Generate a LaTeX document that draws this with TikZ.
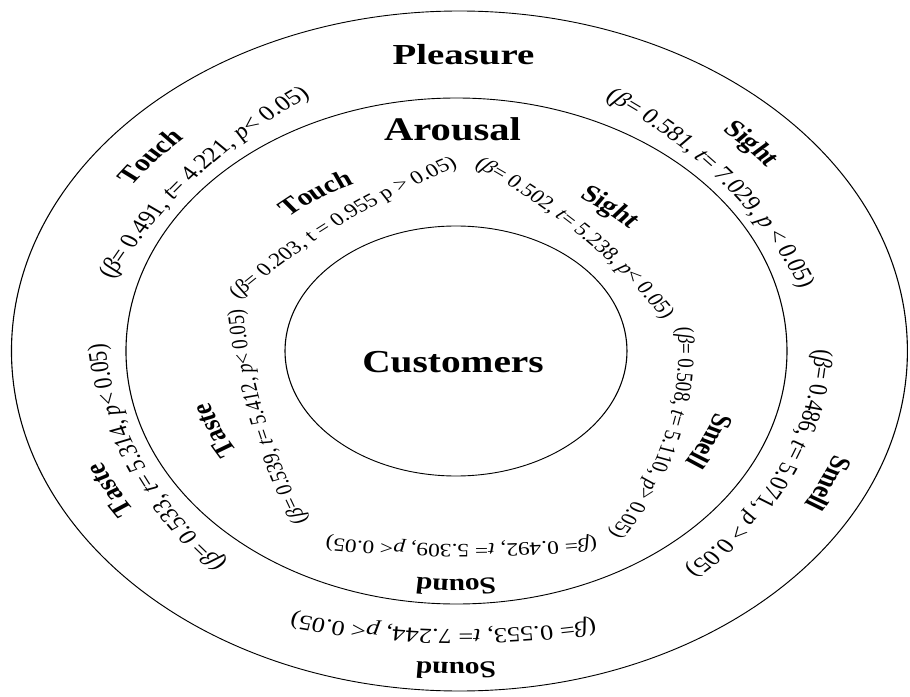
\documentclass[tikz,border=0pt]{standalone}
\usepackage{fontspec}
\setmainfont{Liberation Serif}
\usepackage{graphicx}
\usetikzlibrary{decorations.text}
\newcommand\fsOut{\fontsize{21.5}{24}\selectfont}
\newcommand\fsIn{\fontsize{19}{22}\selectfont}
\newcommand\fsBold{\fontsize{24}{28}\selectfont\bfseries}
% text on an arc of the scaled ellipse (364*rho, 340*rho): style, rho, centre angle, half span, text
\newcommand\elltext[5]{%
  \path[#1, decoration={text={#5}}]
    ({364*#2*cos(#3+#4)},{340*#2*sin(#3+#4)})
    arc[start angle={#3+#4}, end angle={#3-#4}, x radius={364*#2*1pt}, y radius={340*#2*1pt}];}
% text on a circular arc: style, cx, cy, R, centre angle, half span, text
\newcommand\circtext[7]{%
  \path[#1, decoration={text={#7}}]
    ({#2+#4*cos(#5+#6)},{#3+#4*sin(#5+#6)})
    arc[start angle={#5+#6}, end angle={#5-#6}, radius={#4*1pt}];}
\begin{document}
\begin{tikzpicture}[x=1pt,y=1pt,
  ring/.style={draw=black, line width=0.9pt},
  title/.style={anchor=base, inner sep=0pt},
  boldlabel/.style={decorate, decoration={text along path, text align=center, raise=-7.9pt}},
  outstat/.style={decorate, decoration={text along path, text align=center, raise=-6.4pt}},
  instat/.style={decorate, decoration={text along path, text align=center, raise=-5.7pt}}]
\useasboundingbox (-456,-345) rectangle (454,351);
\begin{scope}[transform canvas={xscale=1.23}]
  % rings
  \draw[ring] (2.8,0) ellipse [x radius=364.2pt, y radius=340pt];
  \draw[ring] (0.4,0) ellipse [x radius=268.7pt, y radius=253pt];
  \draw[ring] (0,0) ellipse [x radius=139pt, y radius=125pt];
  % titles
  \node[title, font=\fontsize{29}{32}\selectfont\bfseries] (pleasure) at (6.1,286) {\scalebox{1.09}[1]{Pleasure}};
  \node[title, font=\fontsize{33}{36}\selectfont\bfseries] (arousal) at (-2.8,210) {Arousal};
  \node[title, font=\fontsize{32}{36}\selectfont\bfseries] (customers) at (-2.4,-21) {Customers};
  % outer ring: sense labels
  \elltext{boldlabel}{0.894}{140.3}{20}{|\fsBold|Touch}
  \elltext{boldlabel}{0.902}{42.5}{20}{|\fsBold|Sight}
  \elltext{boldlabel}{0.921}{-24.9}{20}{|\fsBold|Smell}
  \elltext{boldlabel}{0.94}{-90}{20}{|\fsBold|Sound}
  \elltext{boldlabel}{0.878}{207.7}{20}{|\fsBold|Taste}
  % inner ring: sense labels
  \elltext{boldlabel}{0.564}{124.5}{30}{|\fsBold|Touch}
  \elltext{boldlabel}{0.55}{50.4}{30}{|\fsBold|Sight}
  \elltext{boldlabel}{0.629}{-24.6}{30}{|\fsBold|Smell}
  \elltext{boldlabel}{0.695}{-90}{30}{|\fsBold|Sound}
  \elltext{boldlabel}{0.592}{203}{30}{|\fsBold|Taste}
  % outer ring: statistics
  \circtext{outstat}{150.4}{-142.7}{486.2}{138.8}{20}{|\fsOut|(|\fsOut\itshape|β|\fsOut|= 0.491, |\fsOut\itshape|t|\fsOut|= 4.221, |\fsOut\itshape|p|\fsOut|< 0.05)}
  \circtext{outstat}{-111.6}{-102.6}{431.2}{39.8}{23}{|\fsOut|(|\fsOut\itshape|β|\fsOut|= 0.581, |\fsOut\itshape|t|\fsOut|= 7.029, |\fsOut\itshape|p|\fsOut| < 0.05)}
  \circtext{outstat}{-17.45}{15.43}{316.1}{-25.7}{31}{|\fsOut|(|\fsOut\itshape|β|\fsOut|= 0.486, |\fsOut\itshape|t|\fsOut|= 5.071, |\fsOut\itshape|p|\fsOut| > 0.05)}
  \circtext{outstat}{4.8}{337.5}{622.5}{-91.4}{16}{|\fsOut|(|\fsOut\itshape|β|\fsOut|= 0.553, |\fsOut\itshape|t|\fsOut|= 7.244, |\fsOut\itshape|p|\fsOut|< 0.05)}
  \circtext{outstat}{78.3}{38.5}{371.4}{204.2}{27}{|\fsOut|(|\fsOut\itshape|β|\fsOut|= 0.533, |\fsOut\itshape|t|\fsOut|= 5.314, |\fsOut\itshape|p|\fsOut|< 0.05)}
  % inner ring: statistics
  \circtext{instat}{282}{-380}{636}{126.6}{14}{|\fsIn|(|\fsIn\itshape|β|\fsIn|= 0.203, t = 0.955 p > 0.05)}
  \circtext{instat}{-288}{-273}{554.6}{45.1}{16}{|\fsIn|(|\fsIn\itshape|β|\fsIn|= 0.502, |\fsIn\itshape|t|\fsIn|= 5.238, |\fsIn\itshape|p|\fsIn|< 0.05)}
  \circtext{instat}{-147.2}{0.9}{333.8}{-15.1}{26}{|\fsIn|(|\fsIn\itshape|β|\fsIn|= 0.508, |\fsIn\itshape|t|\fsIn|= 5.110, |\fsIn\itshape|p|\fsIn|> 0.05)}
  \circtext{instat}{4.5}{801}{1000}{-90}{9}{|\fsIn|(|\fsIn\itshape|β|\fsIn|= 0.492, |\fsIn\itshape|t|\fsIn|= 5.309, |\fsIn\itshape|p|\fsIn|< 0.05)}
  \circtext{instat}{537}{105}{719}{193.9}{12}{|\fsIn|(|\fsIn\itshape|β|\fsIn|= 0.539, |\fsIn\itshape|t|\fsIn|= 5.412, |\fsIn\itshape|p|\fsIn|< 0.05)}
\end{scope}
\end{tikzpicture}
\end{document}
